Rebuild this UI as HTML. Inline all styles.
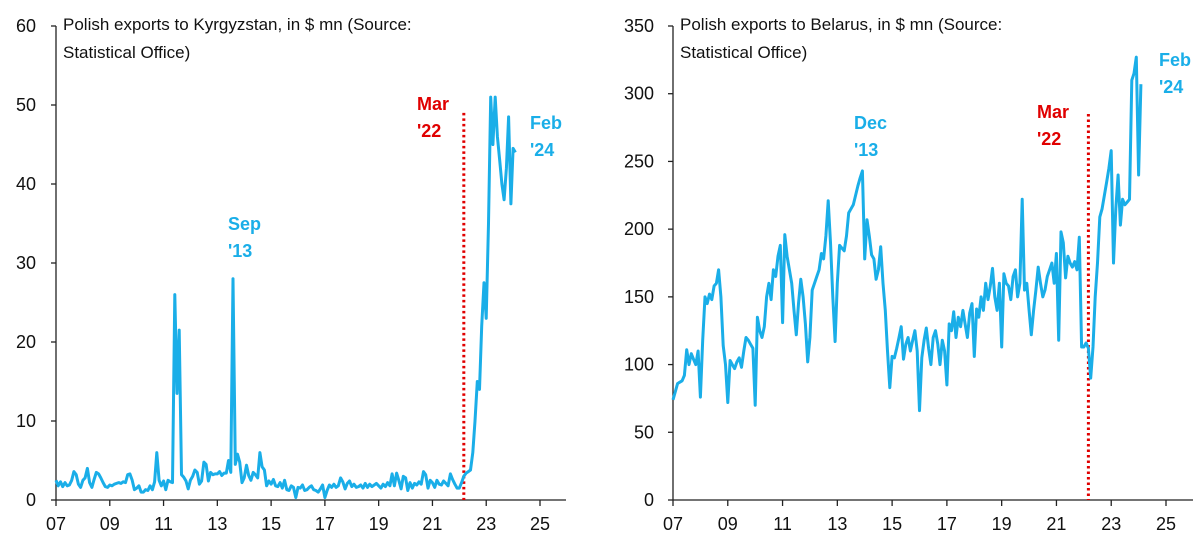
<!DOCTYPE html>
<html><head><meta charset="utf-8"><style>
body{margin:0;background:#fff;}
svg text{font-family:"Liberation Sans",sans-serif;}
</style></head><body>
<svg id="c" width="1200" height="537" viewBox="0 0 1200 537" xmlns="http://www.w3.org/2000/svg"></svg>
<script>
const startYear = 2007;
const xTickLabels = ["07","09","11","13","15","17","19","21","23","25"];
const kgTickLabels = [0,10,20,30,40,50,60];
const byTickLabels = [0,50,100,150,200,250,300,350];
const kgValues = [
2.5,1.8,2.3,1.7,2.2,1.8,1.9,2.5,3.6,3.2,2.0,1.6,
2.5,2.8,4.0,2.2,1.6,2.6,3.5,3.3,2.8,2.2,1.7,1.6,
1.9,1.8,2.0,2.1,2.2,2.1,2.3,2.2,3.2,3.3,2.5,1.3,
1.5,1.8,1.0,1.0,1.3,1.2,1.8,1.3,2.3,6.0,2.5,1.8,
2.4,1.3,2.5,2.3,2.2,26,13.5,21.5,3.2,2.9,2.4,1.4,
2.5,3.0,3.8,3.5,2.0,2.4,4.8,4.5,2.4,3.5,3.2,3.3,
3.3,3.6,3.1,3.4,3.4,5.0,3.5,28,4.5,5.8,4.8,2.2,
2.8,4.4,3.1,2.5,3.5,3.2,2.8,6.0,4.2,3.8,1.8,2.4,
2.0,2.6,1.8,1.7,2.2,1.5,2.5,1.3,1.2,1.8,1.6,0.3,
1.6,1.5,1.9,1.2,1.3,1.6,1.8,1.3,1.2,1.0,1.4,1.9,
0.3,1.2,1.9,1.6,2.0,1.6,1.8,2.8,2.3,1.4,2.1,2.4,
1.7,2.0,1.6,1.7,1.9,1.5,2.1,1.6,2.0,1.7,1.9,2.1,
1.8,1.5,2.0,1.7,2.2,1.8,3.3,1.8,3.4,2.5,1.4,3.0,
2.8,1.2,2.2,1.5,2.1,1.9,2.3,2.0,3.6,3.2,1.5,2.5,
2.2,1.6,2.5,2.0,1.9,2.4,2.1,1.8,3.3,2.6,2.0,1.5,
1.5,2.2,3.0,3.4,3.6,3.8,6,10,15,14,22,27.5,
23,35,51,45,51,46,43,40,38,42,48.5,37.5,
44.5,44];
const byValues = [
74,80,86,87,88,92,111,100,108,104,100,110,
76,118,150,145,152,148,158,160,170,150,114,100,
72,103,100,97,102,105,98,110,120,118,115,112,
70,135,125,120,128,150,160,148,170,165,180,188,
131,196,180,170,160,140,122,145,163,150,130,102,
120,155,160,165,170,182,178,195,221,190,150,117,
160,188,186,184,195,212,215,218,225,232,238,243,
178,207,195,181,178,163,170,187,160,140,110,83,
106,105,112,120,128,104,115,120,110,118,125,110,
66,105,118,127,112,100,120,125,115,100,118,110,
85,130,125,139,120,135,128,140,130,120,138,145,
106,141,135,150,140,160,148,158,171,150,140,160,
113,167,160,158,148,165,170,150,160,222,155,160,
140,122,140,155,172,160,150,155,165,170,175,160,
182,118,198,190,164,180,175,172,176,170,194,113,
113,116,112,90,113,150,175,209,215,225,235,245,
258,175,215,240,203,222,218,220,222,310,315,327,
240,307];
const eventYear = 2022 + 2/12;

const NS = "http://www.w3.org/2000/svg";
const svg = document.getElementById('c');
function mk(tag, attrs, parent){const e=document.createElementNS(NS,tag);for(const k in attrs)e.setAttribute(k,attrs[k]);(parent||svg).appendChild(e);return e;}

const panels = [
 {id:'kyrgyzstan', x0:56, x25:540, xEnd:566, yBase:500, yTop:26, max:60, ticks:kgTickLabels, vals:kgValues, labelRight:36,
  title:["Polish exports to Kyrgyzstan, in $ mn (Source:","Statistical Office)"], titleX:63, evTop:49,
  notes:[{t:["Sep","'13"],x:228,y:230,c:"#1aaee8"},{t:["Mar","'22"],x:417,y:110,c:"#e00000"},{t:["Feb","'24"],x:530,y:129,c:"#1aaee8"}]},
 {id:'belarus', x0:673, x25:1166, xEnd:1193, yBase:500, yTop:26, max:350, ticks:byTickLabels, vals:byValues, labelRight:654,
  title:["Polish exports to Belarus, in $ mn (Source:","Statistical Office)"], titleX:680, evTop:285,
  notes:[{t:["Dec","'13"],x:854,y:129,c:"#1aaee8"},{t:["Mar","'22"],x:1037,y:118,c:"#e00000"},{t:["Feb","'24"],x:1159,y:66,c:"#1aaee8"}]}
];

panels.forEach(p=>{
  const g = mk('g',{});
  
  
  const xs = yr => p.x0 + (yr-startYear)*(p.x25-p.x0)/18;
  const ys = v => p.yBase - v*(p.yBase-p.yTop)/p.max;
  // y axis
  const ya = mk('line',{x1:p.x0,y1:ys(p.max),x2:p.x0,y2:p.yBase,stroke:'#222','stroke-width':1.3},g);
  
  
  p.ticks.forEach(v=>{
    mk('line',{x1:p.x0-5,y1:ys(v),x2:p.x0,y2:ys(v),stroke:'#222','stroke-width':1.3},g);
    const t = mk('text',{x:p.labelRight,y:ys(v)+6,'text-anchor':'end','font-size':18,fill:'#111'},g);
    t.textContent = v;
    
    
  });
  // x axis
  const xa = mk('line',{x1:p.x0,y1:p.yBase,x2:p.xEnd,y2:p.yBase,stroke:'#222','stroke-width':1.3},g);
  
  
  xTickLabels.forEach((lab,i)=>{
    const x = xs(startYear+2*i);
    mk('line',{x1:x,y1:p.yBase,x2:x,y2:p.yBase+6,stroke:'#222','stroke-width':1.3},g);
    const t = mk('text',{x:x,y:530,'text-anchor':'middle','font-size':18,fill:'#111'},g);
    t.textContent = lab;
    
    
  });
  // title
  p.title.forEach((ln,i)=>{
    const t = mk('text',{x:p.titleX,y:30+i*28,'font-size':17,fill:'#111'},g);
    t.textContent = ln;
    
    
  });
  // event line
  const ev = mk('line',{x1:xs(eventYear),y1:ys(p.evTop),x2:xs(eventYear),y2:p.yBase,stroke:'#e00000','stroke-width':3,'stroke-dasharray':'2.5 3'},g);
  
  
  // series
  const pts = p.vals.map((v,i)=>xs(startYear+i/12).toFixed(1)+','+ys(v).toFixed(1)).join(' ');
  const pl = mk('polyline',{points:pts,fill:'none',stroke:'#1aaee8','stroke-width':3,'stroke-linejoin':'round'},g);
  
  
  // notes
  p.notes.forEach(n=>{
    n.t.forEach((ln,i)=>{
      const t = mk('text',{x:n.x,y:n.y+i*27,'font-size':18,'font-weight':'bold',fill:n.c},g);
      t.textContent = ln;
      
      
    });
  });
});
</script>
</body></html>
